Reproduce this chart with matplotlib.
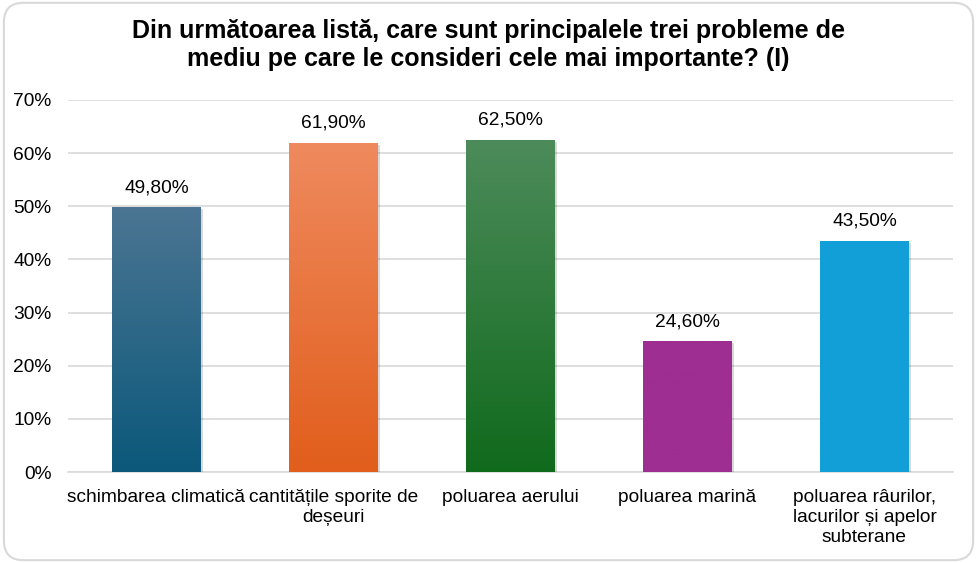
import numpy as np
import matplotlib.pyplot as plt
from matplotlib.patches import FancyBboxPatch
from matplotlib.colors import LinearSegmentedColormap
import matplotlib.patheffects as pe

categories = [
    "schimbarea climatică",
    "cantitățile sporite de\ndeșeuri",
    "poluarea aerului",
    "poluarea marină",
    "poluarea râurilor,\nlacurilor și apelor\nsubterane",
]
values = [49.8, 61.9, 62.5, 24.6, 43.5]
value_labels = ["49,80%", "61,90%", "62,50%", "24,60%", "43,50%"]
# (top colour, bottom colour) per bar
bar_colors = [
    ("#4b7592", "#0b587b"),
    ("#ef8a5e", "#e15e1c"),
    ("#4d8b5b", "#106a1c"),
    ("#9e2e91", "#9e2e91"),
    ("#129fd7", "#129fd7"),
]
yticks = [0, 10, 20, 30, 40, 50, 60, 70]

TITLE = ("Din următoarea listă, care sunt principalele trei probleme de\n"
         "mediu pe care le consideri cele mai importante? (I)")

plt.rcParams["font.family"] = ["Liberation Sans", "DejaVu Sans"]

fig = plt.figure(figsize=(9.77, 5.63), dpi=100)
fig.patch.set_facecolor("white")

# rounded chart border
border = FancyBboxPatch((0.004, 0.005), 0.992, 0.99,
                        boxstyle="round,pad=0,rounding_size=0.02",
                        transform=fig.transFigure, fc="none",
                        ec="#d9d9d9", lw=1.5, mutation_aspect=977 / 563,
                        zorder=-1)
fig.patches.append(border)

ax = fig.add_axes([0.0696, 0.1616, 0.9058, 0.6608])
ax.set_facecolor("none")

x = np.arange(len(categories))
bars = ax.bar(x, values, width=0.5, color="white", zorder=3,
              path_effects=[pe.SimplePatchShadow(offset=(1.5, -1.5),
                                                 shadow_rgbFace="#000000",
                                                 alpha=0.15),
                            pe.Normal()])

grad = np.linspace(0, 1, 256).reshape(-1, 1)
for bar, (ctop, cbot) in zip(bars, bar_colors):
    x0, y0 = bar.get_x(), bar.get_y()
    w, h = bar.get_width(), bar.get_height()
    cmap = LinearSegmentedColormap.from_list("g", [cbot, ctop])
    im = ax.imshow(grad, cmap=cmap, aspect="auto", origin="lower",
                   extent=(x0, x0 + w, y0, y0 + h), zorder=4)
    im.set_clip_path(bar)

for xi, v, lab in zip(x, values, value_labels):
    ax.annotate(lab, (xi, v), xytext=(0, 8), textcoords="offset points",
                ha="center", va="bottom", fontsize=13.8, color="#000000",
                zorder=5)

ax.set_xlim(-0.5, len(categories) - 0.5)
ax.set_ylim(0, 70)
ax.set_yticks(yticks)
ax.set_yticklabels([f"{t}%" for t in yticks])
ax.set_xticks(x)
ax.set_xticklabels(categories, linespacing=1.22)
ax.tick_params(axis="both", length=0, labelsize=13.8, colors="#000000")
ax.tick_params(axis="y", pad=12)
ax.tick_params(axis="x", pad=12.5)
ax.grid(axis="y", color="#d9d9d9", lw=1.2, zorder=0)
ax.set_axisbelow(True)
for s in ["top", "right", "left"]:
    ax.spines[s].set_visible(False)
ax.spines["bottom"].set_color("#d9d9d9")
ax.spines["bottom"].set_linewidth(1.2)

fig.text(0.5, 0.967, TITLE, ha="center", va="top", fontsize=18,
         fontweight="bold", color="#000000", linespacing=1.25)

fig.savefig("out.png", dpi=100, facecolor="white")
